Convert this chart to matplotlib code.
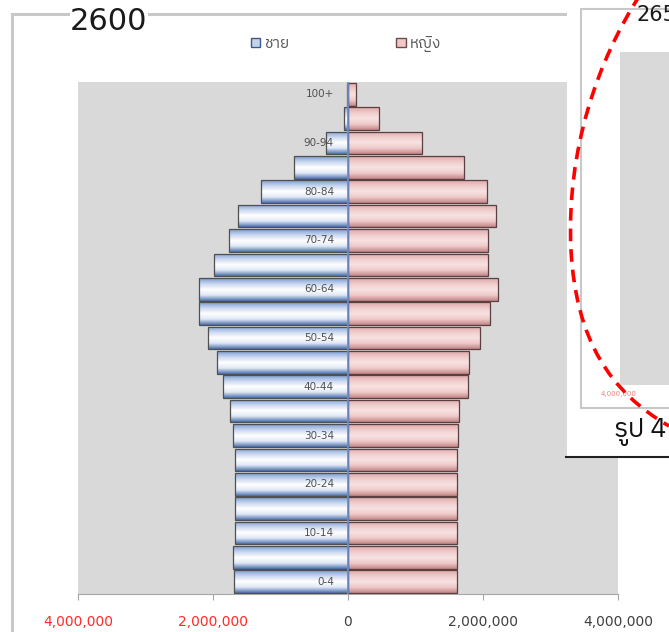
import matplotlib
matplotlib.use('Agg')
import matplotlib.pyplot as plt
import matplotlib.transforms as mtransforms
import numpy as np
from matplotlib import font_manager
from matplotlib.colors import LinearSegmentedColormap
from matplotlib.patches import Rectangle, Patch, PathPatch
from matplotlib.path import Path
from matplotlib.lines import Line2D
from matplotlib.ticker import FuncFormatter

# population pyramid, year 2600 (B.E.)
ages = ['0-4', '5-9', '10-14', '15-19', '20-24', '25-29', '30-34', '35-39',
        '40-44', '45-49', '50-54', '55-59', '60-64', '65-69', '70-74',
        '75-79', '80-84', '85-89', '90-94', '95-99', '100+']
male = [1690000, 1700000, 1680000, 1670000, 1670000, 1680000, 1700000,
        1750000, 1850000, 1940000, 2070000, 2210000, 2210000, 1990000,
        1760000, 1630000, 1290000, 800000, 330000, 60000, 20000]
female = [1610000, 1610000, 1610000, 1610000, 1610000, 1620000, 1630000,
          1640000, 1780000, 1790000, 1960000, 2100000, 2220000, 2070000,
          2070000, 2190000, 2060000, 1720000, 1100000, 460000, 120000]
xticks = [-4000000, -2000000, 0, 2000000, 4000000]
legend_labels = ['ชาย', 'หญิง']

thai = sorted({f.name for f in font_manager.fontManager.ttflist if 'Thai' in f.name})
thai_family = thai[:1] + ['DejaVu Sans']

W, H = 669, 632
fig = plt.figure(figsize=(W / 100, H / 100), dpi=100)


def fx(x):
    return x / W


def fy(y):
    return 1 - y / H


# chart frame of the main chart
fig.add_artist(Line2D([fx(12), fx(669)], [fy(14), fy(14)], color='#c8c8c8', lw=2.2))
fig.add_artist(Line2D([fx(12), fx(12)], [fy(14), fy(640)], color='#c8c8c8', lw=2.2))

ax = fig.add_axes([fx(78), fy(594), 540 / W, 512 / H])
ax.set_facecolor('#d9d9d9')

y = np.arange(len(ages))
male_cmap = LinearSegmentedColormap.from_list('m', ['#4a70ad', '#dfe7f5', '#ffffff', '#c9d7ee', '#7b9cd2'])
female_cmap = LinearSegmentedColormap.from_list('f', ['#c28585', '#efc9c9', '#f8e2e2', '#f0cccc', '#dfa8a8'])

mbars = ax.barh(y, [-v for v in male], height=0.93, color='none', edgecolor='#505050', lw=0.9, zorder=3)
fbars = ax.barh(y, female, height=0.93, color='none', edgecolor='#5a4040', lw=0.9, zorder=3)

grad = np.linspace(0, 1, 64).reshape(-1, 1)
for bars, cmap in ((mbars, male_cmap), (fbars, female_cmap)):
    for r in bars:
        x0, y0 = r.get_x(), r.get_y()
        x1, y1 = x0 + r.get_width(), y0 + r.get_height()
        im = ax.imshow(grad, cmap=cmap, aspect='auto', origin='lower',
                       extent=(min(x0, x1), max(x0, x1), y0, y1), zorder=2)
        im.set_clip_path(r)

ax.axvline(0, color='#6f8fc8', lw=1.2, zorder=4)

# age labels next to the axis
off = mtransforms.offset_copy(ax.transData, fig=fig, x=-14, y=0, units='dots')
for i, lab in enumerate(ages):
    if i % 2 == 0:
        ax.text(0, i, lab, transform=off, ha='right', va='center',
                fontsize=7.5, color='#505050', zorder=5)

ax.set_xlim(xticks[0], xticks[-1])
ax.set_ylim(-0.5, len(ages) - 0.5)
ax.set_yticks([])
ax.set_xticks(xticks)
ax.xaxis.set_major_formatter(FuncFormatter(lambda v, p: f'{abs(v):,.0f}'))
ax.tick_params(axis='x', length=4, color='#a6a6a6', pad=11, labelsize=10, labelcolor='#404040')
for lab, v in zip(ax.get_xticklabels(), xticks):
    if v < 0:
        lab.set_color('#ff2a2a')
for s in ('top', 'left', 'right'):
    ax.spines[s].set_visible(False)
ax.spines['bottom'].set_color('#a6a6a6')

fig.text(fx(70), fy(22), '2600', fontsize=22, color='#1a1a1a', va='center', ha='left',
         bbox=dict(facecolor='white', edgecolor='none', pad=0))

handles = [Patch(facecolor='#c5d3ea', edgecolor='#3b5a8a', lw=1),
           Patch(facecolor='#f0c8c8', edgecolor='#6a4a4a', lw=1)]
fig.legend(handles, legend_labels, loc='center', bbox_to_anchor=(fx(346), fy(44)),
           ncol=2, frameon=False, handlelength=0.6, handleheight=0.6, handletextpad=0.3,
           columnspacing=7.0, prop={'family': thai_family, 'size': 11}, labelcolor='#555555')

# overlapping neighbour picture on the right
fig.add_artist(Rectangle((fx(567), fy(457)), 1 - fx(567), fy(0) - fy(457),
                         transform=fig.transFigure, facecolor='white', edgecolor='none', zorder=10))
fig.add_artist(Line2D([fx(566), 1], [fy(457), fy(457)], color='#202020', lw=1.5, zorder=11))
fig.add_artist(Line2D([fx(581), fx(581), 1], [fy(408), fy(9), fy(9)], color='#c8c8c8', lw=1.5, zorder=11))
fig.add_artist(Line2D([fx(581), 1], [fy(408), fy(408)], color='#c8c8c8', lw=1.5, zorder=11))
fig.add_artist(Rectangle((fx(620), fy(385)), 1 - fx(620), fy(52) - fy(385),
                         transform=fig.transFigure, facecolor='#d9d9d9', edgecolor='none', zorder=11))
fig.text(fx(619), fy(394), '4,000,000', fontsize=5, color='#f08080', ha='center', va='center', zorder=12)
fig.text(fx(637), fy(15), '265', fontsize=15, color='#1a1a1a', ha='left', va='center', zorder=12)
fig.text(fx(614), fy(432), 'รูป 4', fontsize=19, color='#111111', ha='left', va='center',
         family=thai_family, zorder=12)

# red dashed circle mark
pts = [(640, -5), (598, 60), (566, 150), (571, 250), (576, 340), (610, 392), (669, 426)]
codes = [Path.MOVETO] + [Path.CURVE4] * 6
circ = Path([(fx(a), fy(b)) for a, b in pts], codes)
fig.add_artist(PathPatch(circ, transform=fig.transFigure, facecolor='none', edgecolor='#ff0000',
                         lw=2.6, linestyle=(0, (3.5, 2.2)), zorder=13))

fig.savefig('out.png', dpi=100)
